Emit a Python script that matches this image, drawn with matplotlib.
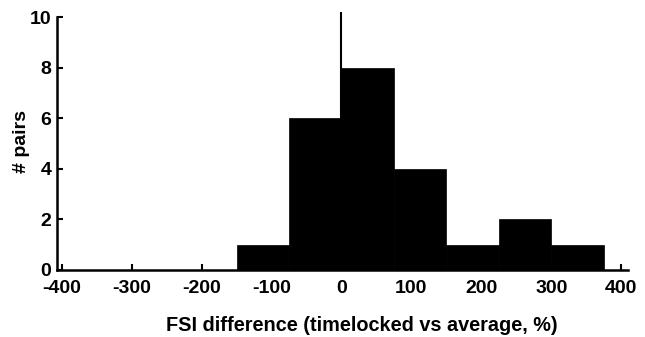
import numpy as np
import matplotlib.pyplot as plt

plt.rcParams['font.family'] = ['Liberation Sans', 'DejaVu Sans']
plt.rcParams['font.weight'] = 'bold'
plt.rcParams['axes.unicode_minus'] = False

# histogram of FSI differences, bin edges in %
edges = [-150, -75, 0, 75, 150, 225, 300, 375]
counts = [1, 6, 8, 4, 1, 2, 1]
xticks = [-400, -300, -200, -100, 0, 100, 200, 300, 400]
yticks = [0, 2, 4, 6, 8, 10]

fig = plt.figure(figsize=(6.45, 3.37), dpi=100)
ax = fig.add_axes([0.088, 0.199, 0.886, 0.765])

widths = np.diff(edges)
ax.bar(edges[:-1], counts, width=widths, align='edge', color='black',
       edgecolor='black', linewidth=0.5)
ax.plot([0, 0], [0, 10.2], color='black', linewidth=1.5)

ax.set_xlim(-407, 410)
ax.set_ylim(0, 10.2)
ax.set_xticks(xticks)
ax.set_yticks(yticks)

for s in ['top', 'right']:
    ax.spines[s].set_visible(False)
ax.spines['left'].set_bounds(0, 10)
for s in ['left', 'bottom']:
    ax.spines[s].set_linewidth(1.8)

ax.tick_params(direction='in', length=4, width=1.5, labelsize=14)
ax.tick_params(axis='x', pad=7)
ax.tick_params(axis='y', pad=4)
ax.set_xlabel('FSI difference (timelocked vs average, %)', fontsize=14.3,
              fontweight='bold')
ax.xaxis.set_label_coords(0.534, -0.18)
ax.set_ylabel('# pairs', fontsize=14, fontweight='bold')
ax.yaxis.set_label_coords(-0.046, 0.5)

fig.savefig('out.png', dpi=100)
